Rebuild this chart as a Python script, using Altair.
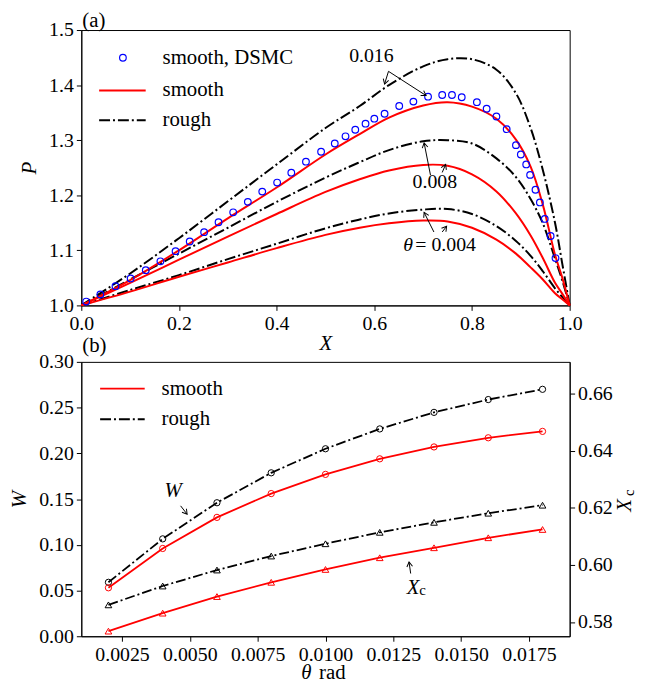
import math
import altair as alt
import pandas as pd

FONT = "Liberation Serif"

# ---------------- panel (a) data ----------------
X_GRID = [0.0, 0.1, 0.2, 0.3, 0.4, 0.5, 0.57, 0.63, 0.70, 0.75, 0.80, 0.85, 0.89, 0.92, 0.945, 0.97, 0.985, 1.0]
P_SMOOTH_004 = [1.0, 1.025, 1.052, 1.078, 1.104, 1.128, 1.141, 1.149, 1.154, 1.1525, 1.141, 1.1195, 1.094, 1.069, 1.047, 1.022, 1.011, 1.0]
P_ROUGH_004 = [1.0, 1.028, 1.055, 1.084, 1.112, 1.140, 1.156, 1.167, 1.174, 1.175, 1.166, 1.144, 1.117, 1.090, 1.062, 1.031, 1.015, 1.0]
P_SMOOTH_008 = [1.0, 1.041, 1.083, 1.125, 1.166, 1.206, 1.229, 1.245, 1.255, 1.2535, 1.238, 1.207, 1.167, 1.127, 1.086, 1.041, 1.021, 1.0]
P_ROUGH_008 = [1.0, 1.047, 1.094, 1.141, 1.188, 1.232, 1.260, 1.282, 1.298, 1.300, 1.294, 1.267, 1.233, 1.193, 1.149, 1.085, 1.045, 1.0]
P_SMOOTH_016 = [1.0, 1.046, 1.100, 1.158, 1.214, 1.274, 1.311, 1.341, 1.363, 1.369, 1.361, 1.339, 1.301, 1.252, 1.183, 1.092, 1.050, 1.0]
P_ROUGH_016 = [1.0, 1.058, 1.122, 1.189, 1.256, 1.322, 1.362, 1.400, 1.434, 1.447, 1.447, 1.428, 1.385, 1.322, 1.246, 1.150, 1.075, 1.0]

DSMC_X = [0.010, 0.039, 0.070, 0.101, 0.132, 0.162, 0.193, 0.222, 0.2515, 0.281, 0.311, 0.341, 0.3705,
          0.401, 0.430, 0.460, 0.491, 0.519, 0.541, 0.561, 0.582, 0.600, 0.621, 0.651, 0.680, 0.710,
          0.739, 0.759, 0.779, 0.810, 0.830, 0.850, 0.871, 0.890, 0.900, 0.911, 0.919, 0.930, 0.939,
          0.949, 0.961, 0.971]
DSMC_P = [1.007, 1.020, 1.035, 1.049, 1.064, 1.080, 1.0985, 1.116, 1.133, 1.151, 1.169, 1.188, 1.2066,
          1.223, 1.241, 1.261, 1.279, 1.294, 1.307, 1.319, 1.330, 1.339, 1.348, 1.362, 1.370, 1.379,
          1.382, 1.382, 1.378, 1.369, 1.357, 1.343, 1.320, 1.291, 1.274, 1.256, 1.237, 1.210, 1.187,
          1.157, 1.126, 1.086]

# ---------------- panel (b) data ----------------
THETA = [0.002, 0.004, 0.006, 0.008, 0.010, 0.012, 0.014, 0.016, 0.018]
W_SMOOTH = [0.053, 0.096, 0.130, 0.156, 0.177, 0.194, 0.207, 0.217, 0.224]
W_ROUGH = [0.059, 0.1065, 0.146, 0.1787, 0.205, 0.2267, 0.2448, 0.2588, 0.270]
XC_SMOOTH = [0.5768, 0.5831, 0.5889, 0.5939, 0.5984, 0.6025, 0.6060, 0.6095, 0.6124]
XC_ROUGH = [0.5860, 0.5926, 0.5982, 0.6031, 0.6074, 0.6114, 0.6149, 0.6181, 0.6209]

W_PX, HA_PX, HB_PX = 493, 278, 277
XA_DOM, PA_DOM = [0.0, 1.0], [1.0, 1.5]
TH_DOM, W_DOM, XC_DOM = [0.001, 0.019], [0.0, 0.30], [0.575, 0.6711]

RED, BLUE = "#ff0000", "#0000ff"
DASHDOT = [11, 3, 2, 3]
ARROW_SHAPE = "M -0.6 1 L 0 0 L 0.6 1"
ONE = pd.DataFrame({"k": [0]})


def txt(s, x, y, size=21, style="normal", align="left"):
    return alt.Chart(ONE).mark_text(
        text=s, font=FONT, fontSize=size, fontStyle=style, align=align,
        baseline="middle", color="black"
    ).encode(x=alt.value(x), y=alt.value(y))


def arrow_df(arrows, xdom, ydom, h):
    rows = []
    for (x1, y1, x2, y2) in arrows:
        dx = (x2 - x1) / (xdom[1] - xdom[0]) * W_PX
        dy = -(y2 - y1) / (ydom[1] - ydom[0]) * h
        ang = math.degrees(math.atan2(dx, -dy)) % 360
        rows.append({"x1": x1, "y1": y1, "x2": x2, "y2": y2, "ang": ang})
    return pd.DataFrame(rows)


# ---------------- panel (a) ----------------
curves = []
for kind, th, vals in [("smooth", "0.004", P_SMOOTH_004), ("rough", "0.004", P_ROUGH_004),
                       ("smooth", "0.008", P_SMOOTH_008), ("rough", "0.008", P_ROUGH_008),
                       ("smooth", "0.016", P_SMOOTH_016), ("rough", "0.016", P_ROUGH_016)]:
    for x, p in zip(X_GRID, vals):
        curves.append({"kind": kind, "theta": th, "X": x, "P": p})
curves = pd.DataFrame(curves)
dsmc = pd.DataFrame({"X": DSMC_X, "P": DSMC_P})

axX = alt.Axis(values=[0, 0.2, 0.4, 0.6, 0.8, 1.0], format=".1f", title="X",
               titleFontStyle="italic", titlePadding=0)
axP = alt.Axis(values=[1.0, 1.1, 1.2, 1.3, 1.4, 1.5], format=".1f", title="P",
               titleFontStyle="italic", titlePadding=9)
xa = alt.X("X:Q", scale=alt.Scale(domain=XA_DOM, nice=False, zero=False), axis=axX)
ya = alt.Y("P:Q", scale=alt.Scale(domain=PA_DOM, nice=False, zero=False), axis=axP)

smooth_a = alt.Chart(curves).transform_filter(alt.datum.kind == "smooth").mark_line(
    color=RED, strokeWidth=2, interpolate="catmull-rom").encode(x=xa, y=ya, detail="theta:N")
rough_a = alt.Chart(curves).transform_filter(alt.datum.kind == "rough").mark_line(
    color="black", strokeWidth=2, strokeDash=DASHDOT, interpolate="catmull-rom").encode(
    x=xa, y=ya, detail="theta:N")
dsmc_a = alt.Chart(dsmc).mark_point(shape="circle", filled=False, color=BLUE, size=45,
                                    strokeWidth=1.2, opacity=1).encode(x=xa, y=ya)

ARROWS_A = [(0.629, 1.425, 0.621, 1.402), (0.629, 1.425, 0.706, 1.381),
            (0.715, 1.2366, 0.702, 1.295), (0.739, 1.2414, 0.746, 1.2559),
            (0.722, 1.1333, 0.702, 1.1688), (0.739, 1.1333, 0.748, 1.1436)]
arr_a = arrow_df(ARROWS_A, XA_DOM, PA_DOM, HA_PX).rename(columns={"x1": "X", "y1": "P"})
shaft_a = alt.Chart(arr_a).mark_rule(color="black", strokeWidth=1).encode(
    x=xa, y=ya, x2="x2:Q", y2="y2:Q")
head_a = alt.Chart(arr_a).mark_point(shape=ARROW_SHAPE, filled=False, color="black", size=90,
                                     strokeWidth=1, opacity=1).encode(
    x=alt.X("x2:Q", scale=alt.Scale(domain=XA_DOM, nice=False, zero=False), axis=axX),
    y=alt.Y("y2:Q", scale=alt.Scale(domain=PA_DOM, nice=False, zero=False), axis=axP),
    angle=alt.Angle("ang:Q", scale=None))

ann_a = pd.DataFrame({"X": [0.594, 0.724], "P": [1.452, 1.2234], "t": ["0.016", "0.008"]})
ann_a_txt = alt.Chart(ann_a).mark_text(font=FONT, fontSize=20, baseline="middle", align="center",
                                       color="black").encode(x=xa, y=ya, text="t:N")
th_lbl = pd.DataFrame({"X": [0.659], "P": [1.110]})
th_a = alt.Chart(th_lbl).mark_text(text="θ", font=FONT, fontSize=20, fontStyle="italic",
                                   baseline="middle", align="left", color="black").encode(x=xa, y=ya)
eq_lbl = pd.DataFrame({"X": [0.684], "P": [1.110]})
eq_a = alt.Chart(eq_lbl).mark_text(text="= 0.004", font=FONT, fontSize=20, baseline="middle",
                                   align="left", color="black").encode(x=xa, y=ya)

leg_a = [
    alt.Chart(ONE).mark_point(shape="circle", filled=False, color=BLUE, size=45, strokeWidth=1.2,
                              opacity=1).encode(x=alt.value(42), y=alt.value(28)),
    alt.Chart(ONE).mark_rule(color=RED, strokeWidth=2).encode(
        x=alt.value(18), x2=alt.value(65), y=alt.value(61)),
    alt.Chart(ONE).mark_rule(color="black", strokeWidth=2, strokeDash=DASHDOT).encode(
        x=alt.value(18), x2=alt.value(65), y=alt.value(91)),
    txt("smooth, DSMC", 82, 28), txt("smooth", 82, 61), txt("rough", 82, 91),
    txt("(a)", 1, -9),
]

top = alt.layer(rough_a, smooth_a, dsmc_a, shaft_a, head_a, ann_a_txt, th_a, eq_a, *leg_a).properties(
    width=W_PX, height=HA_PX)

# ---------------- panel (b) ----------------
bdf = pd.DataFrame({"theta": THETA * 2,
                    "W": W_SMOOTH + W_ROUGH,
                    "Xc": XC_SMOOTH + XC_ROUGH,
                    "kind": ["smooth"] * len(THETA) + ["rough"] * len(THETA)})

axT = alt.Axis(values=[0.0025, 0.005, 0.0075, 0.01, 0.0125, 0.015, 0.0175], format=".4f", title=None)
axW = alt.Axis(values=[0, 0.05, 0.1, 0.15, 0.2, 0.25, 0.3], format=".2f", title="W",
               titleFontStyle="italic", titlePadding=9)
axXc = alt.Axis(values=[0.58, 0.60, 0.62, 0.64, 0.66], format=".2f", title=None, orient="right")
tx = alt.X("theta:Q", scale=alt.Scale(domain=TH_DOM, nice=False, zero=False), axis=axT)
wy = alt.Y("W:Q", scale=alt.Scale(domain=W_DOM, nice=False, zero=False), axis=axW)
xcy = alt.Y("Xc:Q", scale=alt.Scale(domain=XC_DOM, nice=False, zero=False), axis=axXc)


def series(kind, yenc, shape):
    color = RED if kind == "smooth" else "black"
    base = alt.Chart(bdf).transform_filter(alt.datum.kind == kind)
    line_kw = dict(color=color, strokeWidth=1.8)
    if kind == "rough":
        line_kw["strokeDash"] = [10, 3, 2, 3]
    ln = base.mark_line(**line_kw).encode(x=tx, y=yenc)
    pt = base.mark_point(shape=shape, filled=False, color=color, size=40 if shape == "circle" else 45,
                         strokeWidth=1, opacity=1).encode(x=tx, y=yenc)
    return [ln, pt]


ARROWS_B = [(0.00466, 0.1426, 0.00490, 0.1335), (0.01314, 0.0686, 0.01308, 0.0812)]
arr_b = arrow_df(ARROWS_B, TH_DOM, W_DOM, HB_PX).rename(columns={"x1": "theta", "y1": "W"})
shaft_b = alt.Chart(arr_b).mark_rule(color="black", strokeWidth=1).encode(
    x=tx, y=wy, x2="x2:Q", y2="y2:Q")
head_b = alt.Chart(arr_b).mark_point(shape=ARROW_SHAPE, filled=False, color="black", size=90,
                                     strokeWidth=1, opacity=1).encode(
    x=alt.X("x2:Q", scale=alt.Scale(domain=TH_DOM, nice=False, zero=False), axis=axT),
    y=alt.Y("y2:Q", scale=alt.Scale(domain=W_DOM, nice=False, zero=False), axis=axW),
    angle=alt.Angle("ang:Q", scale=None))

ann_b = pd.DataFrame({"theta": [0.00439, 0.01323], "W": [0.159, 0.0531], "t": ["W", "X"]})
ann_b_txt = alt.Chart(ann_b).mark_text(font=FONT, fontSize=21, fontStyle="italic", baseline="middle",
                                       align="center", color="black").encode(x=tx, y=wy, text="t:N")
sub_b = pd.DataFrame({"theta": [0.01358], "W": [0.0504]})
sub_b_txt = alt.Chart(sub_b).mark_text(text="c", font=FONT, fontSize=15, baseline="middle",
                                       align="center", color="black").encode(x=tx, y=wy)

leg_b = [
    alt.Chart(ONE).mark_rule(color=RED, strokeWidth=2).encode(
        x=alt.value(19), x2=alt.value(64), y=alt.value(27)),
    alt.Chart(ONE).mark_rule(color="black", strokeWidth=2, strokeDash=DASHDOT).encode(
        x=alt.value(19), x2=alt.value(64), y=alt.value(58)),
    txt("smooth", 81, 27), txt("rough", 81, 58),
    txt("(b)", 1, -16),
    txt("θ", 222, 314, style="italic"), txt("rad", 240, 314),
]

w_layer = alt.layer(*series("rough", wy, "circle"), *series("smooth", wy, "circle"),
                    shaft_b, head_b, ann_b_txt, sub_b_txt, *leg_b)
xc_layer = alt.layer(*series("rough", xcy, "triangle-up"), *series("smooth", xcy, "triangle-up"),
                     alt.Chart(ONE).mark_text(text="X", font=FONT, fontSize=21, fontStyle="italic",
                                              angle=270, baseline="middle", align="center",
                                              color="black").encode(x=alt.value(549), y=alt.value(145)),
                     alt.Chart(ONE).mark_text(text="c", font=FONT, fontSize=15, angle=270,
                                              baseline="middle", align="center",
                                              color="black").encode(x=alt.value(553), y=alt.value(132)))

bottom = alt.layer(w_layer, xc_layer).resolve_scale(y="independent").properties(
    width=W_PX, height=HB_PX)

chart = alt.vconcat(top, bottom, spacing=57, bounds="flush").properties(
    padding={"left": 0, "top": -2, "right": 2, "bottom": 2}
).configure_axis(
    labelFont=FONT, titleFont=FONT, labelFontSize=20, titleFontSize=21,
    labelColor="black", titleColor="black", tickColor="black", domainColor="black",
    tickSize=5, tickWidth=1, domainWidth=1, grid=False, labelFlush=False,
    labelOverlap=False, titleFontWeight="normal", labelPadding=3
).configure_view(stroke="black", strokeWidth=1)

chart.save("out.html", embed_options={"renderer": "svg", "actions": False})
